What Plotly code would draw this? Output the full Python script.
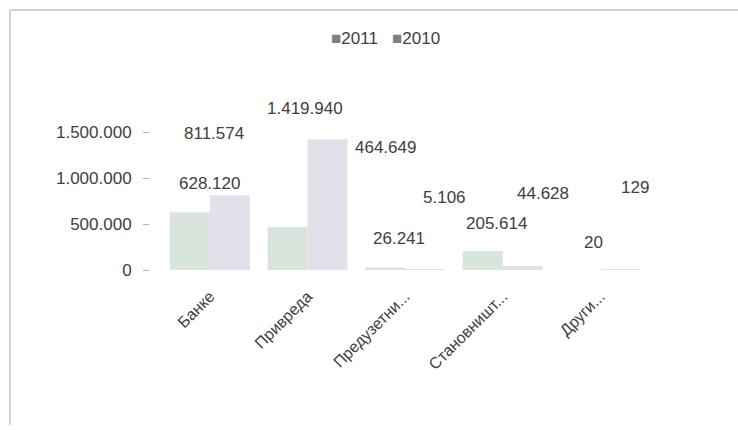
import plotly.graph_objects as go

# Sector categories (labels as truncated on the axis)
categories = ["Банке", "Привреда", "Предузетни...", "Становништ...", "Други..."]

# Amounts per sector
values_2011 = [628120, 464649, 26241, 205614, 20]
values_2010 = [811574, 1419940, 5106, 44628, 129]

y_ticks = [0, 500000, 1000000, 1500000]

W, H = 738, 430
M_L, M_R, M_T, M_B = 150, 89, 132, 160
TEXT = "#404040"
FONT = "Liberation Sans"


def fmt(v):
    return f"{v:,}".replace(",", ".")


fig = go.Figure()
fig.add_trace(go.Bar(name="2011", x=categories, y=values_2011,
                     marker=dict(color="#d9e4dd", line=dict(width=0))))
fig.add_trace(go.Bar(name="2010", x=categories, y=values_2010,
                     marker=dict(color="#e2e1eb", line=dict(width=0))))

# Value labels, nudged in pixels the way the 3D layout spreads them out
shift_2011 = [(-1, 29), (78, 80), (-6, 29), (-6, 28), (-7, 28)]
shift_2010 = [(4, 62), (-3, 31), (39, 72), (40, 72), (35, 82)]

annotations = []
for vals, shifts in ((values_2011, shift_2011), (values_2010, shift_2010)):
    for cat, v, (dx, dy) in zip(categories, vals, shifts):
        annotations.append(dict(
            x=cat, y=v, xref="x", yref="y", text=fmt(v), showarrow=False,
            xshift=dx, yshift=dy, xanchor="center", yanchor="middle",
            font=dict(family=FONT, size=17, color=TEXT)))

# Legend drawn as text: grey square followed by the year
plot_w = W - M_L - M_R
plot_h = H - M_T - M_B


def px_to_paper(px, py):
    return (px - M_L) / plot_w, (H - M_B - py) / plot_h


lx, ly = px_to_paper(385, 38)
sq = "<span style='color:#7f7f7f;font-size:17px'>■</span>"
annotations.append(dict(
    x=lx, y=ly, xref="paper", yref="paper", showarrow=False,
    xanchor="center", yanchor="middle",
    text=f"{sq}2011   {sq}2010",
    font=dict(family=FONT, size=17, color=TEXT)))

# Chart frame: top and left edges
x0, y0 = px_to_paper(10, 10)
x1, y1 = px_to_paper(738, 425)
shapes = [
    dict(type="line", xref="paper", yref="paper", x0=x0, y0=y0, x1=x1, y1=y0,
         line=dict(color="#d4d4d4", width=2)),
    dict(type="line", xref="paper", yref="paper", x0=x0, y0=y0, x1=x0, y1=y1,
         line=dict(color="#d4d4d4", width=2)),
]

fig.update_layout(
    width=W, height=H,
    margin=dict(l=M_L, r=M_R, t=M_T, b=M_B, pad=0),
    paper_bgcolor="white", plot_bgcolor="white",
    barmode="group", bargap=0.18, bargroupgap=0.0,
    separators=",.",
    showlegend=False,
    font=dict(family=FONT, size=17, color=TEXT),
    annotations=annotations,
    shapes=shapes,
    xaxis=dict(
        type="category", range=[-0.615, 4.5],
        tickangle=-45, showgrid=False, showline=False, zeroline=False,
        ticks="", ticklabelstandoff=13,
        tickfont=dict(family=FONT, size=16, color=TEXT)),
    yaxis=dict(
        range=[0, 1500000], tickvals=y_ticks, tickformat=",d",
        showgrid=False, showline=False, zeroline=False,
        ticks="outside", ticklen=6, tickcolor="#b0b0b0", tickwidth=1,
        ticklabelstandoff=8,
        tickfont=dict(family=FONT, size=17, color=TEXT)),
)

fig.write_html("out.html")
